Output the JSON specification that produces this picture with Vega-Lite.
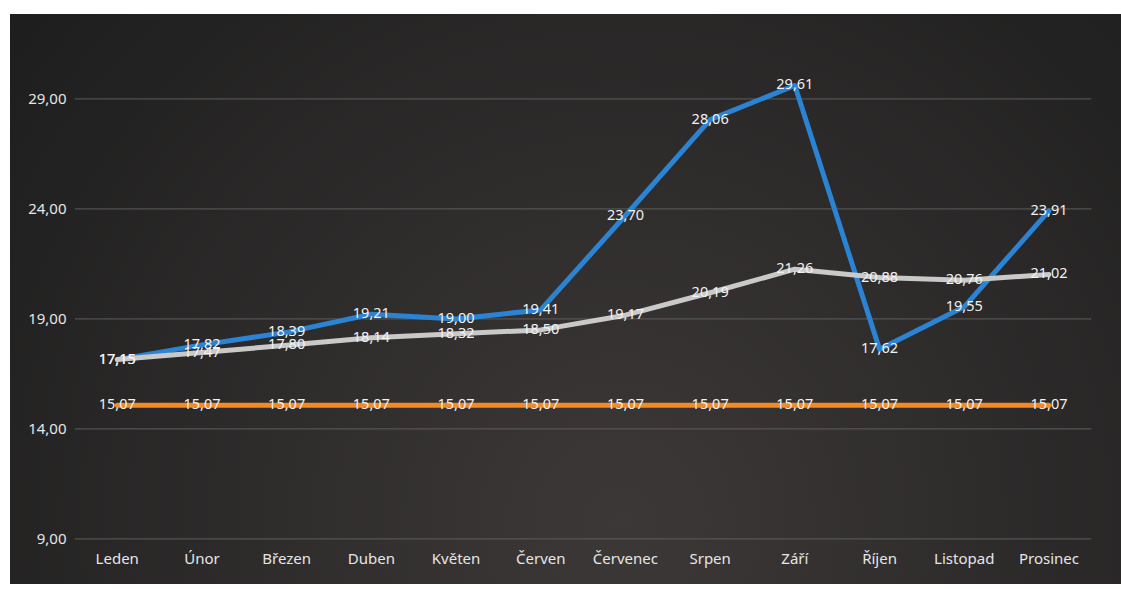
{
  "$schema": "https://vega.github.io/schema/vega-lite/v6.json",
  "width": 1111,
  "height": 570,
  "autosize": {"type": "none"},
  "padding": {"left": 10, "top": 14, "right": 0, "bottom": 5},
  "background": "white",
  "config": {
    "view": {"stroke": null, "fill": "#262525"},
    "font": "Noto Sans",
    "locale": {"number": {"decimal": ",", "thousands": " ", "grouping": [3], "currency": ["", " Kč"]}}
  },
  "datasets": {
    "main": [
      {"month": "Leden", "series": "s1", "value": 17.15},
      {"month": "Únor", "series": "s1", "value": 17.82},
      {"month": "Březen", "series": "s1", "value": 18.39},
      {"month": "Duben", "series": "s1", "value": 19.21},
      {"month": "Květen", "series": "s1", "value": 19.00},
      {"month": "Červen", "series": "s1", "value": 19.41},
      {"month": "Červenec", "series": "s1", "value": 23.70},
      {"month": "Srpen", "series": "s1", "value": 28.06},
      {"month": "Září", "series": "s1", "value": 29.61},
      {"month": "Říjen", "series": "s1", "value": 17.62},
      {"month": "Listopad", "series": "s1", "value": 19.55},
      {"month": "Prosinec", "series": "s1", "value": 23.91},
      {"month": "Leden", "series": "s2", "value": 17.15},
      {"month": "Únor", "series": "s2", "value": 17.47},
      {"month": "Březen", "series": "s2", "value": 17.80},
      {"month": "Duben", "series": "s2", "value": 18.14},
      {"month": "Květen", "series": "s2", "value": 18.32},
      {"month": "Červen", "series": "s2", "value": 18.50},
      {"month": "Červenec", "series": "s2", "value": 19.17},
      {"month": "Srpen", "series": "s2", "value": 20.19},
      {"month": "Září", "series": "s2", "value": 21.26},
      {"month": "Říjen", "series": "s2", "value": 20.88},
      {"month": "Listopad", "series": "s2", "value": 20.76},
      {"month": "Prosinec", "series": "s2", "value": 21.02},
      {"month": "Leden", "series": "s3", "value": 15.07},
      {"month": "Únor", "series": "s3", "value": 15.07},
      {"month": "Březen", "series": "s3", "value": 15.07},
      {"month": "Duben", "series": "s3", "value": 15.07},
      {"month": "Květen", "series": "s3", "value": 15.07},
      {"month": "Červen", "series": "s3", "value": 15.07},
      {"month": "Červenec", "series": "s3", "value": 15.07},
      {"month": "Srpen", "series": "s3", "value": 15.07},
      {"month": "Září", "series": "s3", "value": 15.07},
      {"month": "Říjen", "series": "s3", "value": 15.07},
      {"month": "Listopad", "series": "s3", "value": 15.07},
      {"month": "Prosinec", "series": "s3", "value": 15.07}
    ],
    "grid": [{"g": 9}, {"g": 14}, {"g": 19}, {"g": 24}, {"g": 29}]
  },
  "layer": [
    {
      "data": {"values": [{}]},
      "mark": {
        "type": "rect",
        "fill": {
          "gradient": "radial",
          "x1": 0.55, "y1": 0.7, "x2": 0.55, "y2": 0.7, "r1": 0, "r2": 0.75,
          "stops": [
            {"offset": 0, "color": "#3c3837"},
            {"offset": 1, "color": "#1c1c1c"}
          ]
        }
      },
      "encoding": {}
    },
    {
      "data": {"name": "grid"},
      "mark": {"type": "rule", "color": "#5e5e5e", "strokeWidth": 1},
      "encoding": {
        "y": {"field": "g", "type": "quantitative"},
        "x": {"datum": "Leden", "type": "nominal", "bandPosition": 0},
        "x2": {"datum": "Prosinec", "bandPosition": 1}
      }
    },
    {
      "data": {"name": "main"},
      "mark": {"type": "line", "strokeWidth": 5, "strokeJoin": "round", "strokeCap": "round"},
      "encoding": {
        "x": {"field": "month", "type": "nominal"},
        "y": {"field": "value", "type": "quantitative"},
        "color": {
          "field": "series", "type": "nominal",
          "scale": {"domain": ["s1", "s2", "s3"], "range": ["#2b83d4", "#c9c9c9", "#f28a26"]},
          "legend": null
        }
      }
    },
    {
      "data": {"name": "main"},
      "mark": {"type": "text", "fontSize": 14.5, "color": "#f2f2f2", "baseline": "middle", "align": "center"},
      "encoding": {
        "x": {"field": "month", "type": "nominal"},
        "y": {"field": "value", "type": "quantitative"},
        "text": {"field": "value", "type": "quantitative", "format": ".2f"}
      }
    }
  ],
  "encoding": {
    "x": {
      "type": "nominal",
      "scale": {
        "domain": ["Leden", "Únor", "Březen", "Duben", "Květen", "Červen", "Červenec", "Srpen", "Září", "Říjen", "Listopad", "Prosinec"],
        "type": "band", "paddingInner": 0, "paddingOuter": 0.5585, "align": 0.686
      },
      "axis": {
        "title": null, "orient": "bottom", "offset": -26, "domain": false, "ticks": false, "tickSize": 0,
        "labelPadding": 0, "labelBaseline": "middle", "labelAngle": 0, "grid": false, "zindex": 2,
        "labelColor": "#e6e6e6", "labelFontSize": 15, "labelFont": "Noto Sans"
      }
    },
    "y": {
      "type": "quantitative",
      "scale": {"domain": [6.95, 32.86], "nice": false, "zero": false},
      "axis": {
        "title": null, "offset": -56, "domain": false, "ticks": false, "tickSize": 0, "labelPadding": 0,
        "grid": false, "values": [9, 14, 19, 24, 29], "format": ".2f", "zindex": 2,
        "labelColor": "#e6e6e6", "labelFontSize": 15, "labelFont": "Noto Sans", "labelAlign": "right"
      }
    }
  }
}
